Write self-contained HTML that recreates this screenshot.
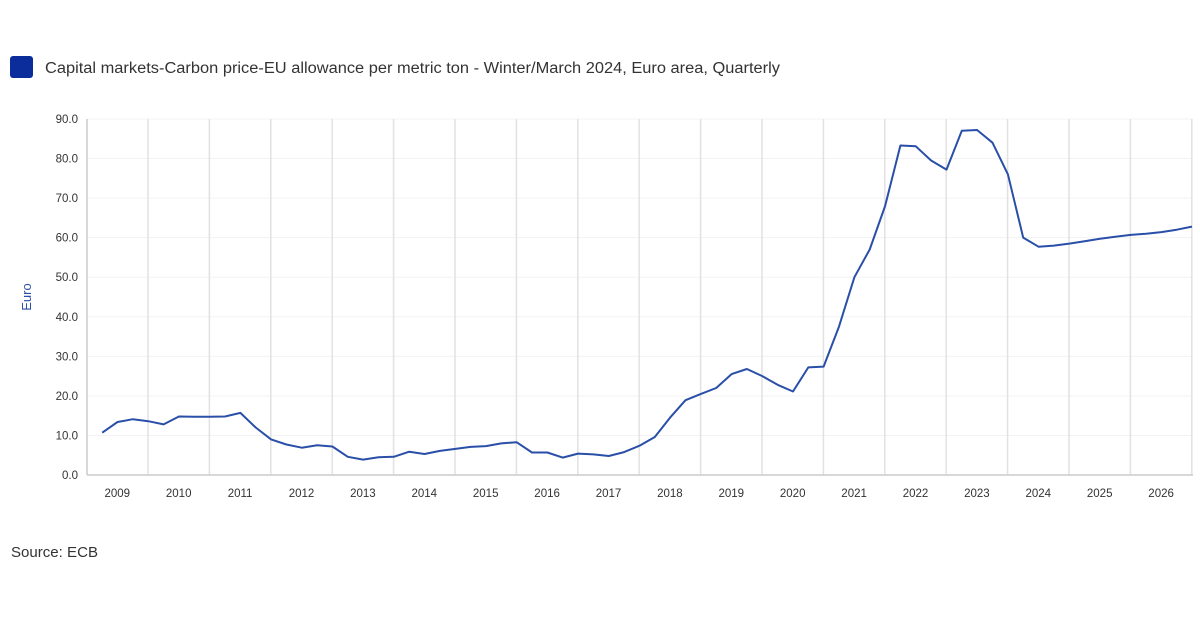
<!DOCTYPE html>
<html><head><meta charset="utf-8"><style>
body{margin:0;background:#fff;width:1200px;height:630px;overflow:hidden;font-family:"Liberation Sans",sans-serif}
</style></head><body>
<svg width="1200" height="630" xmlns="http://www.w3.org/2000/svg" font-family="Liberation Sans, sans-serif">
<rect x="10" y="56" width="23" height="22" rx="3" fill="#0b2d9c"/>
<text x="45" y="73" font-size="15.5" fill="#333" textLength="735" lengthAdjust="spacingAndGlyphs">Capital markets-Carbon price-EU allowance per metric ton - Winter/March 2024, Euro area, Quarterly</text>
<text transform="translate(31,297) rotate(-90)" text-anchor="middle" font-size="13" fill="#2a4fa8">Euro</text>
<text x="11" y="557" font-size="15" fill="#333" textLength="87" lengthAdjust="spacingAndGlyphs">Source: ECB</text>
</svg>
<script>
const ns="http://www.w3.org/2000/svg",s=document.querySelector('svg');
function el(t,a,txt){const e=document.createElementNS(ns,t);for(const k in a)e.setAttribute(k,a[k]);if(txt!=null)e.textContent=txt;s.appendChild(e);return e}
const X0=86.6,W=61.4,Y0=475,K=3.956;
for(let v=0;v<=90;v+=10){const y=Y0-v*K;
 if(v>0)el('line',{x1:87,x2:1193,y1:y,y2:y,stroke:'#f3f3f3'});
 el('text',{x:78,y:y+4,'text-anchor':'end','font-size':11.5,fill:'#333'},v.toFixed(1));}
for(let i=1;i<=18;i++){const x=X0+i*W;el('line',{x1:x,x2:x,y1:119,y2:Y0,stroke:'#e2e2e2','stroke-width':1.5});}
for(let i=0;i<18;i++){const x=X0+i*W+W/2;el('text',{x:x,y:497,'text-anchor':'middle','font-size':11.5,fill:'#333'},2009+i);}
el('line',{x1:87,x2:87,y1:119,y2:Y0,stroke:'#ccc','stroke-width':1.5});
el('line',{x1:87,x2:1193,y1:Y0,y2:Y0,stroke:'#ccc','stroke-width':1.5});
const d=[10.7,13.4,14.1,13.6,12.8,14.8,14.7,14.7,14.8,15.7,12,9,7.7,6.9,7.5,7.2,4.6,3.9,4.5,4.6,5.9,5.3,6.1,6.6,7.1,7.3,8,8.3,5.7,5.7,4.4,5.4,5.2,4.8,5.8,7.4,9.6,14.5,18.9,20.5,22,25.5,26.8,25,22.8,21.1,27.2,27.4,37.5,50,57,68,83.3,83.1,79.5,77.2,87,87.2,84,76,60,57.7,58,58.5,59.1,59.7,60.2,60.7,61,61.4,62,62.8];
el('polyline',{points:d.map((v,i)=>(102.2+i*15.35).toFixed(1)+','+(Y0-v*K).toFixed(1)).join(' '),fill:'none',stroke:'#2a4fa8','stroke-width':2,'stroke-linejoin':'round'});
</script>
</body></html>
